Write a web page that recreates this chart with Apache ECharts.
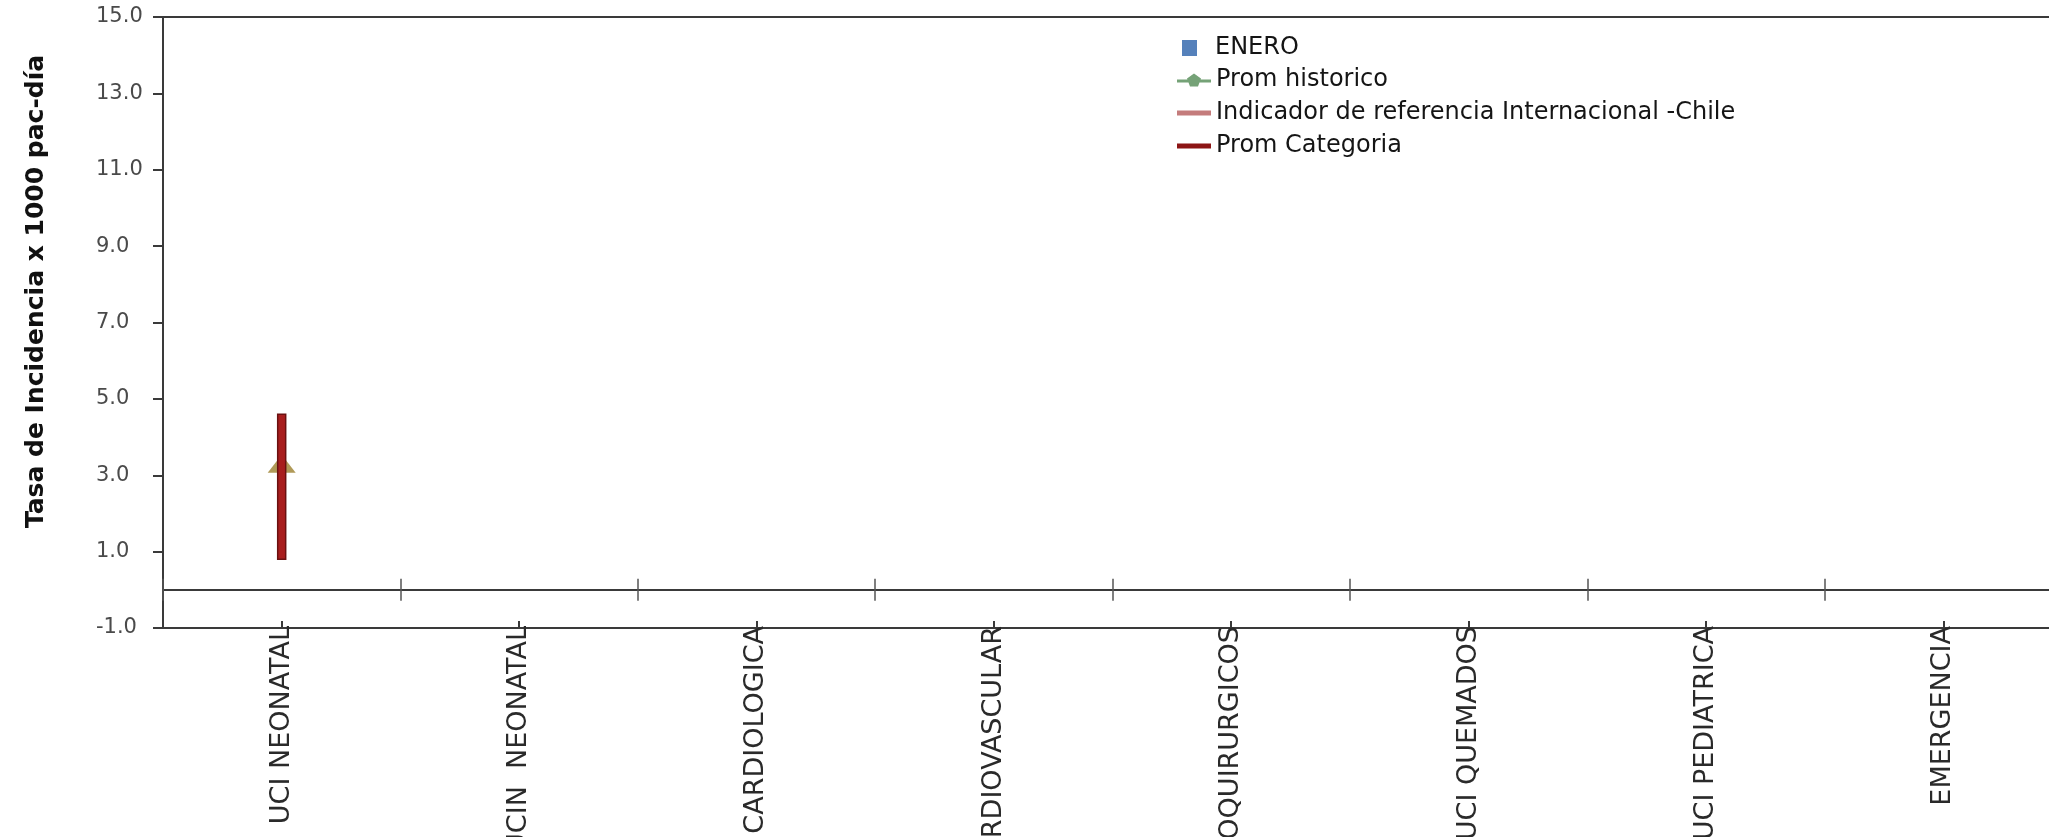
<!DOCTYPE html>
<html>
<head>
<meta charset="utf-8">
<script src="https://cdn.jsdelivr.net/npm/echarts@6/dist/echarts.min.js"></script>
<style>
html,body{margin:0;padding:0;background:#fff;}
#chart{width:2049px;height:837px;}
</style>
</head>
<body>
<div id="chart"></div>
<script>
// ---- data ----
const categories = ['UCI NEONATAL','UCIN  NEONATAL','UCI CARDIOLOGICA','UCI CARDIOVASCULAR','UCI NEUROQUIRURGICOS','UCI QUEMADOS','UCI PEDIATRICA','EMERGENCIA'];
const enero = [null, null, null, null, null, null, null, null];
const promHistorico = [3.3, null, null, null, null, null, null, null];
const indicadorRef = [null, null, null, null, null, null, null, null];
const promCategoriaLow = [0.8, null, null, null, null, null, null, null];
const promCategoriaHigh = [4.6, null, null, null, null, null, null, null];
const yMin = -1, yMax = 15, yStep = 2;
const yTitle = 'Tasa de Incidencia x 1000 pac-día';
const seriesNames = ['ENERO','Prom historico','Indicador de referencia Internacional -Chile','Prom Categoria'];

// ---- chart ----
const chart = echarts.init(document.getElementById('chart'), null, {renderer:'canvas'});
const FONT = 'DejaVu Sans';
const axisCol = '#3a3a3a';

const catRange = [];
categories.forEach((c, i) => {
  if (promCategoriaLow[i] != null && promCategoriaHigh[i] != null) catRange.push([i, promCategoriaLow[i], promCategoriaHigh[i]]);
});

const legendText = {fontSize:24, fontFamily:FONT, color:'#151515'};

chart.setOption({
  animation:false,
  grid:{left:163, top:17, width:1899, height:611, show:true, borderColor:axisCol, borderWidth:2,
        backgroundColor:'transparent', containLabel:false, outerBoundsMode:'none'},
  legend:[
    {data:[{name:seriesNames[0], icon:'rect', itemStyle:{color:'#5581bb'}}],
     orient:'vertical', left:1177, top:31, itemWidth:15, itemHeight:16, selectedMode:false,
     textStyle:Object.assign({}, legendText, {padding:[0,0,0,13]})},
    {data:[
      {name:seriesNames[1], icon:'path://M0,6h34v3h-34z M17,0 l7,5 -3,8 h-8 l-3,-8z', itemStyle:{color:'#75a277'}},
      {name:seriesNames[2], icon:'path://M0,0h34v5h-34z', itemStyle:{color:'#c47c7c'}},
      {name:seriesNames[3], icon:'path://M0,0h34v5h-34z', itemStyle:{color:'#8c1515'}}
     ],
     orient:'vertical', left:1172, top:63, itemWidth:34, itemHeight:14, itemGap:9, selectedMode:false,
     textStyle:legendText}
  ],
  xAxis:[
    {type:'category', data:categories, position:'bottom',
     axisLine:{onZero:false, lineStyle:{color:axisCol, width:2}},
     axisTick:{show:true, alignWithLabel:true, inside:true, length:7, lineStyle:{color:axisCol, width:2}},
     axisLabel:{interval:0, rotate:90, margin:-2, fontSize:27, fontFamily:FONT, color:'#2a2a2a'},
     splitLine:{show:false}},
    {type:'category', data:categories, position:'bottom',
     axisLine:{onZero:true, onZeroAxisIndex:0, lineStyle:{color:axisCol, width:2}},
     axisTick:{show:true, alignWithLabel:false, interval:0, length:11, lineStyle:{color:'#555', width:1.5}},
     axisLabel:{show:false}, splitLine:{show:false}},
    {type:'category', data:categories, position:'top',
     axisLine:{show:false, onZero:true, onZeroAxisIndex:0},
     axisTick:{show:true, alignWithLabel:false, interval:0, length:11, lineStyle:{color:'#555', width:1.5}},
     axisLabel:{show:false}, splitLine:{show:false}}
  ],
  yAxis:{type:'value', min:yMin, max:yMax, interval:yStep,
    name:yTitle, nameLocation:'middle', nameRotate:90, nameGap:114,
    nameTextStyle:{fontSize:25, fontWeight:'bold', fontFamily:FONT, color:'#111', padding:[0,0,0,62]},
    axisLine:{show:true, onZero:false, lineStyle:{color:axisCol, width:2}},
    axisTick:{show:true, length:10, lineStyle:{color:axisCol, width:2}},
    axisLabel:{formatter:v => v.toFixed(1), align:'left', margin:67, padding:[10,0,0,0], fontSize:21, fontFamily:FONT, color:'#4a4a4a'},
    splitLine:{show:false}},
  series:[
    {name:seriesNames[0], type:'bar', data:enero, itemStyle:{color:'#5581bb'}},
    {name:seriesNames[1], type:'line', data:promHistorico, symbol:'triangle', symbolSize:[28,18],
     itemStyle:{color:'#b09a58'}, lineStyle:{color:'#75a277'}, z:2},
    {name:seriesNames[2], type:'line', data:indicadorRef, showSymbol:false, itemStyle:{color:'#c47c7c'}, lineStyle:{color:'#c47c7c', width:4}},
    {name:seriesNames[3], type:'custom', data:catRange, z:5, itemStyle:{color:'#8c1515'},
     encode:{x:0, y:[1,2]},
     renderItem:function(params, api){
       const top = api.coord([api.value(0), api.value(2)]);
       const bot = api.coord([api.value(0), api.value(1)]);
       return {type:'rect', shape:{x:top[0]-4, y:top[1], width:8, height:bot[1]-top[1]},
               style:{fill:'#a81d1d', stroke:'#6a1010', lineWidth:1.5}};
     }}
  ]
});
</script>
</body>
</html>
